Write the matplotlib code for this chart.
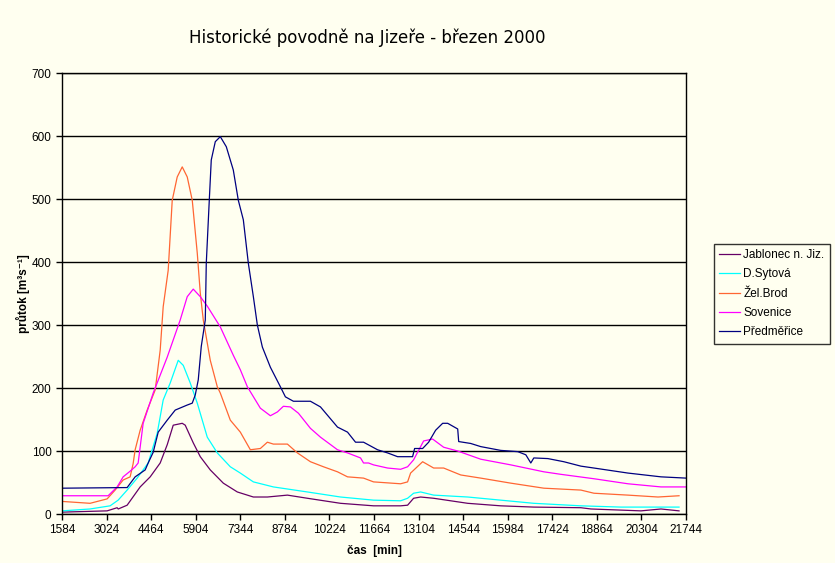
import numpy as np
import matplotlib
matplotlib.use('Agg')
import matplotlib.pyplot as plt

plt.rcParams['font.family'] = ['Liberation Sans', 'DejaVu Sans']

# cas [min] / prutok [m3/s]
t_jab = [1584, 3040, 3364, 3400, 3687, 4108, 4432, 4755, 4982, 5176, 5467, 5564, 5823, 6050, 6373, 6794,
         7247, 7765, 8218, 8865, 9512, 10580, 11648, 12522, 12748, 12942, 13169, 13590, 14690, 15758,
         16826, 18347, 18671, 20288, 20935, 21518]
v_jab = [3, 5, 10, 8, 14, 43, 59, 81, 110, 141, 144, 141, 113, 91, 70, 49,
         35, 27, 27, 30, 25, 17, 13, 13, 14, 25, 27, 25, 17, 13,
         11, 10, 8, 5, 8, 5]

t_syt = [1584, 2490, 3137, 3396, 3687, 4011, 4367, 4658, 4852, 5079, 5338, 5500, 5726, 5953, 6276,
         6600, 7020, 7344, 7765, 8412, 9512, 10580, 11648, 12522, 12748, 12942, 13169, 13590, 14690,
         15758, 16826, 18347, 19641, 21518]
v_syt = [5, 8, 13, 22, 38, 57, 81, 128, 181, 208, 244, 236, 208, 176, 122,
         97, 75, 65, 51, 43, 35, 27, 22, 21, 25, 33, 35, 30, 27,
         22, 17, 13, 11, 11]

t_zel = [1584, 2490, 3040, 3299, 3558, 3784, 3881, 3946, 4108, 4335, 4594, 4755, 4852, 5014, 5144, 5305,
         5467, 5629, 5791, 5953, 6050, 6147, 6373, 6600, 6697, 7020, 7344, 7668, 7991, 8218,
         8412, 8865, 9188, 9609, 10030, 10483, 10807, 11325, 11648, 12522, 12748, 12845, 13234, 13590,
         13913, 14464, 15111, 16082, 17150, 18347, 18768, 19868, 20838, 21518]
v_zel = [20, 17, 24, 38, 54, 59, 80, 102, 133, 165, 197, 260, 329, 387, 498, 535,
         551, 535, 498, 414, 351, 308, 244, 202, 192, 149, 130, 102, 104, 114,
         111, 111, 97, 83, 75, 67, 59, 57, 51, 48, 51, 65, 83, 73,
         73, 62, 57, 49, 41, 38, 33, 30, 27, 29]

t_sov = [1584, 3073, 3364, 3558, 3784, 3946, 4043, 4205, 4529, 4982, 5402, 5629, 5823, 6050, 6276, 6697,
         7117, 7344, 7571, 7991, 8315, 8541, 8735, 8962, 9221, 9609, 9933, 10483, 10807, 11228,
         11325, 11486, 11648, 12101, 12522, 12748, 12942, 13266, 13557, 13913, 14367, 15111, 16082, 17150,
         17700, 18768, 19868, 20935, 21744]
v_sov = [29, 29, 43, 59, 68, 75, 81, 144, 192, 249, 308, 345, 357, 345, 330, 297,
         252, 229, 202, 168, 156, 162, 171, 170, 160, 136, 122, 102, 97, 89,
         81, 81, 78, 73, 71, 75, 86, 116, 119, 106, 100, 87, 78, 67,
         63, 56, 48, 43, 43]

t_pre = [1584, 3687, 3946, 4270, 4367, 4529, 4691, 4982, 5241, 5629, 5791, 5888, 5985, 6082, 6212, 6244,
         6341, 6405, 6535, 6697, 6891, 7117, 7279, 7441, 7603, 7765, 7894, 8056, 8315, 8638,
         8800, 9059, 9609, 9933, 10483, 10807, 11066, 11325, 11777, 12101, 12425, 12910, 12975, 13234,
         13428, 13654, 13881, 14043, 14367, 14399, 14787, 15111, 15758, 16309, 16568, 16729, 16826, 17279,
         17797, 18347, 18768, 19868, 20935, 21744]
v_pre = [41, 42, 59, 70, 81, 98, 130, 149, 165, 173, 176, 189, 213, 266, 308, 398,
         498, 562, 591, 599, 583, 546, 498, 467, 398, 345, 300, 265, 233, 202,
         186, 179, 179, 170, 138, 130, 114, 114, 102, 97, 91, 91, 104, 104,
         114, 133, 144, 144, 135, 115, 112, 107, 101, 99, 94, 81, 89, 88,
         83, 76, 73, 65, 59, 57]

series = [
    ('Jablonec n. Jiz.', t_jab, v_jab, '#660066'),
    ('D.Sytová', t_syt, v_syt, '#00FFFF'),
    ('Žel.Brod', t_zel, v_zel, '#FF6633'),
    ('Sovenice', t_sov, v_sov, '#FF00FF'),
    ('Předměřice', t_pre, v_pre, '#000080'),
]

xticks = np.arange(1584, 21745, 1440)
bg = '#FFFFF0'

fig = plt.figure(figsize=(8.35, 5.63), dpi=100, facecolor=bg)
ax = fig.add_axes([0.0743, 0.087, 0.7473, 0.7833], facecolor=bg)

for name, t, v, c in series:
    ax.plot(t, v, color=c, lw=0.9, label=name)

ax.set_xlim(1584, 21744)
ax.set_ylim(0, 700)
ax.set_xticks(xticks)
ax.set_yticks(np.arange(0, 701, 100))
ax.tick_params(labelsize=8.5, length=4, width=1, color='black', direction='out')
ax.yaxis.grid(True, color='black', lw=1.0)
ax.set_axisbelow(True)
for s in ax.spines.values():
    s.set_color('black')
    s.set_linewidth(1.0)

ax.set_xlabel('čas  [min]', fontsize=8.5, fontweight='bold', labelpad=6)
ax.set_ylabel('průtok [m³s⁻¹]', fontsize=8.5, fontweight='bold', labelpad=1)
fig.text(0.44, 0.933, 'Historické povodně na Jizeře - březen 2000', fontsize=12, ha='center', va='center',
         family=['DejaVu Sans'])

leg = fig.legend(loc='upper left', bbox_to_anchor=(0.855, 0.567), borderaxespad=0, fontsize=8.5,
                 frameon=True, fancybox=False, handlelength=1.8, handletextpad=0.25,
                 labelspacing=0.62, borderpad=0.45)
leg.get_frame().set_edgecolor('black')
leg.get_frame().set_facecolor(bg)
leg.get_frame().set_linewidth(1.0)

plt.savefig('out.png', dpi=100, facecolor=bg)
